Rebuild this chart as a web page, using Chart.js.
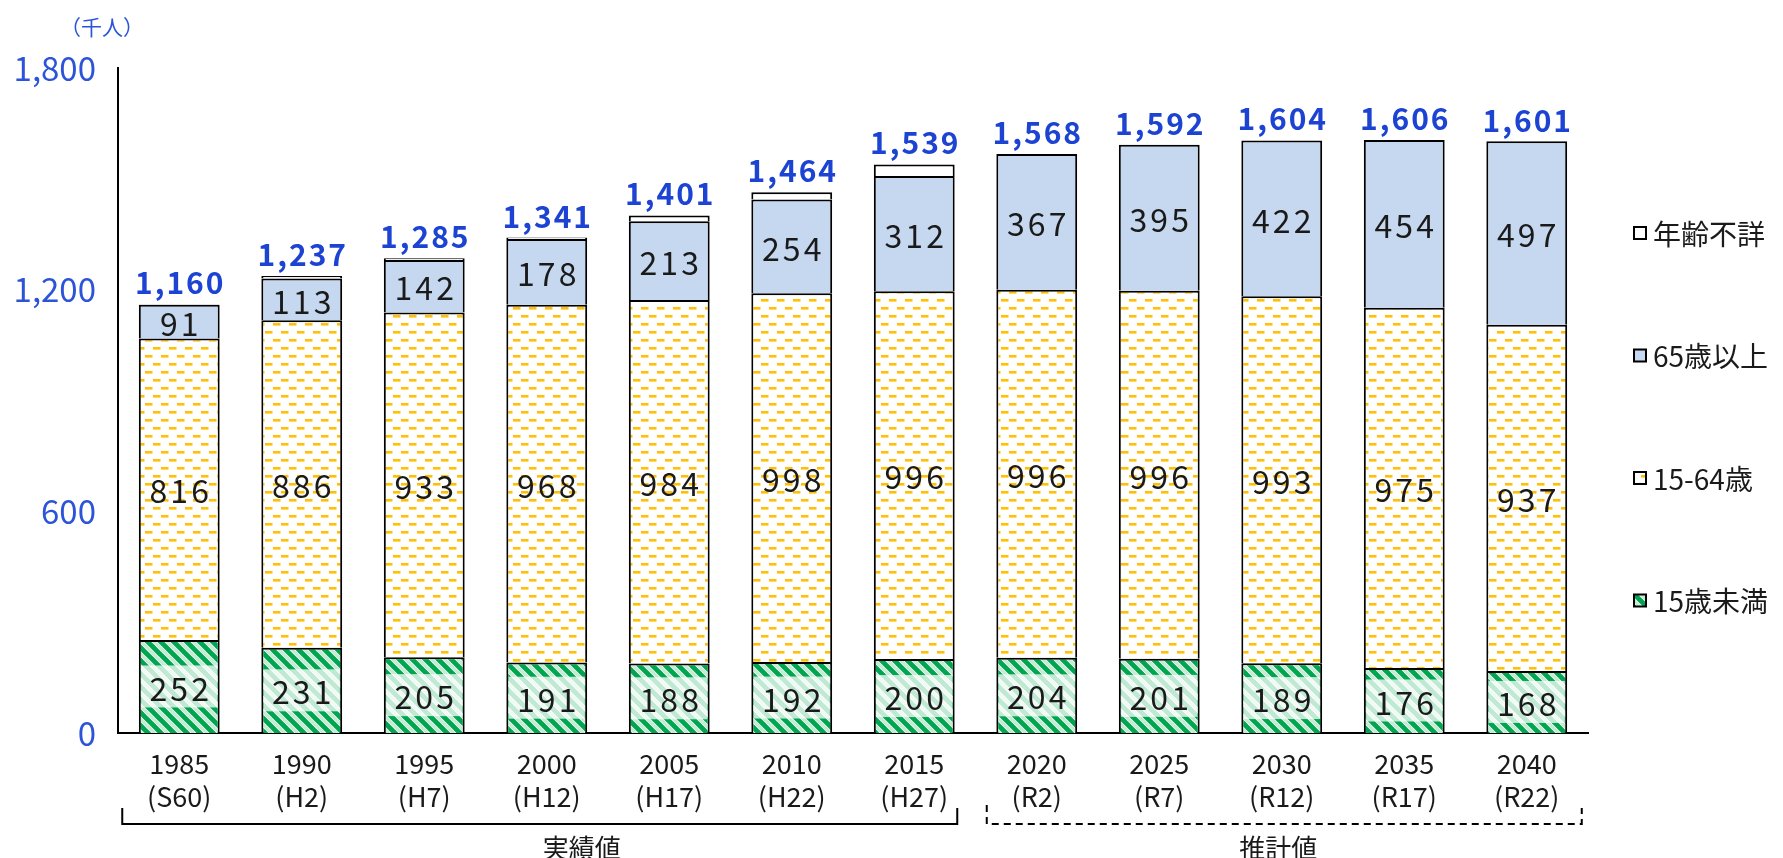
<!DOCTYPE html>
<html>
<head>
<meta charset="utf-8">
<script src="https://cdn.jsdelivr.net/npm/chart.js@4.4.1/dist/chart.umd.min.js"></script>
<style>
  html, body { margin: 0; padding: 0; background: #ffffff; }
  #wrap { width: 1783px; height: 858px; }
</style>
</head>
<body>
<div id="wrap"><canvas id="c" width="1783" height="858"></canvas></div>
<script>
// ---- data ----
const years = ['1985', '1990', '1995', '2000', '2005', '2010', '2015', '2020', '2025', '2030', '2035', '2040'];
const eras = ['(S60)', '(H2)', '(H7)', '(H12)', '(H17)', '(H22)', '(H27)', '(R2)', '(R7)', '(R12)', '(R17)', '(R22)'];
const under15 = [252, 231, 205, 191, 188, 192, 200, 204, 201, 189, 176, 168];
const working = [816, 886, 933, 968, 984, 998, 996, 996, 996, 993, 975, 937];
const elderly = [91, 113, 142, 178, 213, 254, 312, 367, 395, 422, 454, 497];
const unknownAge = [1, 7, 5, 4, 16, 20, 31, 0, 0, 0, 0, 0];
const totals = [1160, 1237, 1285, 1341, 1401, 1464, 1539, 1568, 1592, 1604, 1606, 1601];
const seriesNames = ['15歳未満', '15-64歳', '65歳以上', '年齢不詳'];
const yTicks = [0, 600, 1200, 1800];
const groupNames = ['実績値', '推計値'];
const unitLabel = '（千人）';

const FONT = '"Noto Sans CJK JP", "Noto Sans", sans-serif';
const BLUE_TOT = '#1c43d2';
const BLUE_TICK = '#2c54d8';
const TXT = '#1a1a1a';

// ---- patterns ----
function makeHatch() {
  const s = 13;
  const c = document.createElement('canvas');
  c.width = s; c.height = s;
  const g = c.getContext('2d');
  g.fillStyle = '#ffffff';
  g.fillRect(0, 0, s, s);
  g.strokeStyle = '#c4ebd3';
  g.lineWidth = 3.0;
  for (let k = -2; k <= 2; k++) {
    const off = k * s + s / 2;
    g.beginPath(); g.moveTo(off - s, -s); g.lineTo(off + 2 * s, 2 * s); g.stroke();
  }
  g.strokeStyle = '#00a64f';
  g.lineWidth = 4.8;
  for (let k = -2; k <= 2; k++) {
    const off = k * s;
    g.beginPath(); g.moveTo(off - s, -s); g.lineTo(off + 2 * s, 2 * s); g.stroke();
  }
  return g.createPattern(c, 'repeat');
}
function makeDash() {
  const w = 16, h = 16;
  const c = document.createElement('canvas');
  c.width = w; c.height = h;
  const g = c.getContext('2d');
  g.fillStyle = '#ffffff';
  g.fillRect(0, 0, w, h);
  g.fillStyle = '#ffc000';
  g.fillRect(1, 3, 7.5, 2.6);
  g.fillRect(9, 11, 7, 2.6);
  g.fillRect(0, 11, 0.5, 2.6);
  return g.createPattern(c, 'repeat');
}
const hatch = makeHatch();
const dashes = makeDash();
const fills = [hatch, dashes, '#c5d8ef', '#ffffff'];

// ---- plugins ----
const labelPlugin = {
  id: 'labels',
  afterDatasetsDraw(chart) {
    const ctx = chart.ctx;
    const vals = [under15, working, elderly];
    ctx.save();
    ctx.font = '32px ' + FONT;
    ctx.textBaseline = 'middle';
    ctx.textAlign = 'center';
    const sp = 3;
    ctx.letterSpacing = sp + 'px';
    for (let d = 0; d < 3; d++) {
      const meta = chart.getDatasetMeta(d);
      meta.data.forEach((el, i) => {
        const txt = String(vals[d][i]);
        const cx = el.x;
        const cy = (el.y + el.base) / 2;
        const tw = ctx.measureText(txt).width;
        if (d === 0) {
          const bw = Math.min(tw + 14, el.width - 4);
          ctx.fillStyle = 'rgba(255,255,255,0.75)';
          ctx.fillRect(cx - bw / 2, cy - 21, bw, 42);
        }
        ctx.fillStyle = TXT;
        ctx.fillText(txt, cx + sp / 2, cy + 2);
      });
    }
    // totals
    ctx.font = 'bold 30px ' + FONT;
    ctx.letterSpacing = '2px';
    ctx.textBaseline = 'alphabetic';
    ctx.fillStyle = BLUE_TOT;
    const ys = chart.scales.y;
    const meta0 = chart.getDatasetMeta(0);
    totals.forEach((t, i) => {
      const x = meta0.data[i].x;
      const y = ys.getPixelForValue(t);
      ctx.fillText(t.toLocaleString('en-US'), x + 1, y - 10);
    });
    ctx.restore();
  },
  afterDraw(chart) {
    const ctx = chart.ctx;
    const xs = chart.scales.x;
    ctx.save();
    ctx.font = '21px ' + FONT;
    ctx.fillStyle = BLUE_TICK;
    ctx.textAlign = 'center';
    ctx.textBaseline = 'middle';
    ctx.fillText(unitLabel, 102, 27);

    const p0 = xs.getPixelForValue(0), p3 = xs.getPixelForValue(3), p6 = xs.getPixelForValue(6);
    const p7 = xs.getPixelForValue(7), p11 = xs.getPixelForValue(11);
    const by = 824;
    ctx.strokeStyle = '#000';
    ctx.lineWidth = 2;
    ctx.beginPath();
    ctx.moveTo(p0 - 57, 808); ctx.lineTo(p0 - 57, by); ctx.lineTo(p6 + 43, by); ctx.lineTo(p6 + 43, 808);
    ctx.stroke();
    ctx.setLineDash([7, 5]);
    ctx.beginPath();
    ctx.moveTo(p7 - 50, 805); ctx.lineTo(p7 - 50, by); ctx.lineTo(p11 + 55, by); ctx.lineTo(p11 + 55, 808);
    ctx.stroke();
    ctx.setLineDash([]);
    ctx.font = '26px ' + FONT;
    ctx.fillStyle = TXT;
    ctx.fillText(groupNames[0], p3 + 35, 848);
    ctx.fillText(groupNames[1], (p7 - 50 + p11 + 55) / 2 - 6, 848);

    ctx.textAlign = 'left';
    ctx.font = '28px ' + FONT;
    const order = [3, 2, 1, 0];
    order.forEach((d, k) => {
      const y = 233 + k * 122.5;
      const bx = 1634, bs = 12;
      ctx.fillStyle = fills[d];
      ctx.fillRect(bx, y - bs / 2, bs, bs);
      ctx.lineWidth = 2;
      ctx.strokeStyle = '#000';
      ctx.strokeRect(bx, y - bs / 2, bs, bs);
      ctx.fillStyle = TXT;
      ctx.fillText(seriesNames[d], 1653, y + 1);
    });
    ctx.restore();
  }
};

const mk = (label, data, bg) => ({
  label, data,
  backgroundColor: bg,
  borderColor: '#000000',
  borderWidth: { top: 2, left: 2, right: 2, bottom: 0 },
  borderSkipped: false,
  barPercentage: 0.66,
  categoryPercentage: 1.0
});

new Chart(document.getElementById('c'), {
  type: 'bar',
  data: {
    labels: years.map((y, i) => [y, eras[i]]),
    datasets: [
      mk(seriesNames[0], under15, fills[0]),
      mk(seriesNames[1], working, fills[1]),
      mk(seriesNames[2], elderly, fills[2]),
      mk(seriesNames[3], unknownAge, fills[3])
    ]
  },
  options: {
    responsive: false,
    animation: false,
    events: [],
    layout: { padding: { left: 0, top: 68, right: 195, bottom: 0 } },
    plugins: { legend: { display: false }, tooltip: { enabled: false } },
    scales: {
      x: {
        stacked: true,
        grid: { display: false, drawTicks: false },
        border: { display: true, color: '#000', width: 2 },
        ticks: {
          font: { family: FONT, size: 27, lineHeight: 1.22 },
          color: TXT, padding: 14, maxRotation: 0, autoSkip: false
        },
        afterFit: (s) => { s.height = 125; }
      },
      y: {
        stacked: true,
        min: yTicks[0], max: yTicks[yTicks.length - 1],
        afterBuildTicks: (s) => { s.ticks = yTicks.map(v => ({ value: v })); },
        grid: { display: false, drawTicks: false },
        border: { display: true, color: '#000', width: 2 },
        ticks: {
          font: { family: FONT, size: 33 },
          color: BLUE_TICK, padding: 22,
          callback: (v) => Number(v).toLocaleString('en-US')
        },
        afterFit: (s) => { s.width = 118; }
      }
    }
  },
  plugins: [labelPlugin]
});
</script>
</body>
</html>
